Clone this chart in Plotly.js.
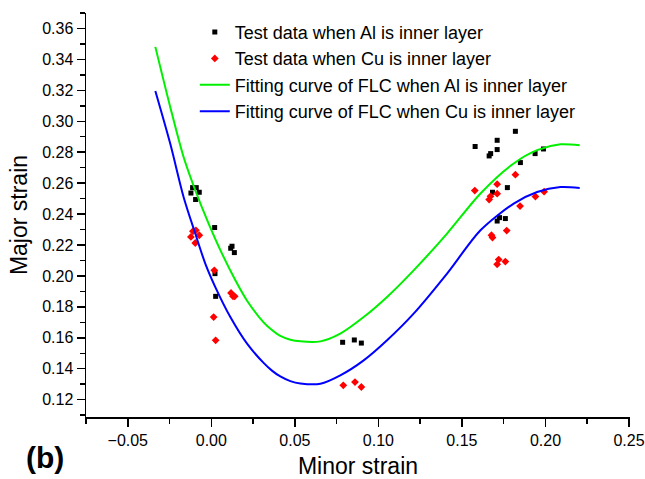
<!DOCTYPE html>
<html>
<head>
<meta charset="utf-8">
<script src="https://cdn.plot.ly/plotly-3.0.1.min.js"></script>
<style>html,body{margin:0;padding:0;background:#fff;}#chart{width:645px;height:479px;}</style>
</head>
<body>
<div id="chart"></div>
<script>
// Test data, Al inner layer (black squares)
const alX = [-0.0112, -0.0090, -0.0122, -0.0072, -0.0094, 0.0020, 0.0124, 0.0116, 0.0138, 0.0022, 0.0026,
             0.0786, 0.0856, 0.0898,
             0.1579, 0.1663, 0.1672, 0.1711, 0.1711, 0.1820, 0.1850, 0.1938, 0.1988, 0.1772, 0.1683, 0.1725, 0.1711, 0.1760];
const alY = [0.2571, 0.2571, 0.2536, 0.2541, 0.2494, 0.2313, 0.2192, 0.2179, 0.2151, 0.2015, 0.1868,
             0.1571, 0.1586, 0.1566,
             0.2837, 0.2776, 0.2791, 0.2877, 0.2817, 0.2935, 0.2733, 0.2791, 0.2821, 0.2571, 0.2541, 0.2377, 0.2355, 0.2371];

// Test data, Cu inner layer (red diamonds)
const cuX = [-0.0110, -0.0092, -0.0122, -0.0072, -0.0096, 0.0018, 0.0118, 0.0130, 0.0140, 0.0014, 0.0026,
             0.0790, 0.0860, 0.0898,
             0.1577, 0.1820, 0.1711, 0.1663, 0.1671, 0.1711, 0.1848, 0.1940, 0.1992, 0.1677, 0.1683, 0.1768, 0.1720, 0.1711, 0.1760];
const cuY = [0.2289, 0.2295, 0.2252, 0.2263, 0.2213, 0.2036, 0.1890, 0.1868, 0.1868, 0.1734, 0.1584,
             0.1293, 0.1314, 0.1282,
             0.2552, 0.2655, 0.2593, 0.2494, 0.2515, 0.2532, 0.2452, 0.2513, 0.2545, 0.2263, 0.2248, 0.2293, 0.2106, 0.2075, 0.2093];

// Fitting curve FLC, Al inner layer (green)
const fitAlX = [-0.0335, -0.0246, -0.0166, -0.0096, -0.0016, 0.0064, 0.0144, 0.0214, 0.0313, 0.0363, 0.0413, 0.0473, 0.0533, 0.0653,
                0.0772, 0.0912, 0.1052, 0.1211, 0.1411, 0.1611, 0.1810, 0.1950, 0.2090, 0.2205];
const fitAlY = [0.3481, 0.3093, 0.2769, 0.2554, 0.2338, 0.2144, 0.1972, 0.1840, 0.1700, 0.1650, 0.1612, 0.1588, 0.1577, 0.1577,
                0.1627, 0.1734, 0.1864, 0.2036, 0.2274, 0.2533, 0.2727, 0.2813, 0.2851, 0.2845];

// Fitting curve FLC, Cu inner layer (blue)
const fitCuX = [-0.0335, -0.0246, -0.0166, -0.0096, -0.0036, 0.0024, 0.0114, 0.0214, 0.0313, 0.0363, 0.0413, 0.0473, 0.0533, 0.0653,
                0.0772, 0.0912, 0.1052, 0.1211, 0.1411, 0.1611, 0.1810, 0.1950, 0.2090, 0.2205];
const fitCuY = [0.3196, 0.2856, 0.2511, 0.2274, 0.2080, 0.1928, 0.1734, 0.1562, 0.1438, 0.1388, 0.1350, 0.1320, 0.1305, 0.1303,
                0.1357, 0.1454, 0.1584, 0.1756, 0.2015, 0.2295, 0.2468, 0.2543, 0.2575, 0.2569];

const names = [
  'Test data when Al is inner layer',
  'Test data when Cu is inner layer',
  'Fitting curve of FLC when Al is inner layer',
  'Fitting curve of FLC when Cu is inner layer'
];

const FONT = 'Arial, "Liberation Sans", sans-serif';

const traces = [
  {x: alX, y: alY, name: names[0], type: 'scatter', mode: 'markers',
   marker: {symbol: 'square', size: 5, color: '#000000'}},
  {x: cuX, y: cuY, name: names[1], type: 'scatter', mode: 'markers',
   marker: {symbol: 'diamond', size: 6, color: '#ff0000'}},
  {x: fitAlX, y: fitAlY, name: names[2], type: 'scatter', mode: 'lines',
   line: {color: '#00f000', width: 2, shape: 'spline', smoothing: 0.8}},
  {x: fitCuX, y: fitCuY, name: names[3], type: 'scatter', mode: 'lines',
   line: {color: '#0000ff', width: 2, shape: 'spline', smoothing: 0.8}}
];

const layout = {
  width: 645, height: 479,
  margin: {l: 86, r: 15, t: 13, b: 62},
  paper_bgcolor: '#ffffff', plot_bgcolor: '#ffffff',
  font: {family: FONT, color: '#000000'},
  showlegend: true,
  legend: {x: 0.2, y: 0.998, xanchor: 'left', yanchor: 'top',
           bgcolor: 'rgba(0,0,0,0)', font: {size: 18, family: FONT, color: '#000'}},
  xaxis: {
    range: [-0.075, 0.2506], dtick: 0.05, tick0: 0, tickformat: '.2f',
    showgrid: false, zeroline: false, showline: true, linecolor: '#000', linewidth: 1.5,
    ticks: 'outside', ticklen: 8, tickwidth: 1.5, tickcolor: '#000',
    tickfont: {size: 16, family: FONT},
    minor: {dtick: 0.025, tick0: 0, ticks: 'outside', ticklen: 5, tickwidth: 1.5, tickcolor: '#000', showgrid: false},
    title: {text: 'Minor strain', font: {size: 23, family: FONT}, standoff: 14}
  },
  yaxis: {
    range: [0.1088, 0.37], dtick: 0.02, tick0: 0.12, tickformat: '.2f',
    showgrid: false, zeroline: false, showline: true, linecolor: '#000', linewidth: 1.5,
    ticks: 'outside', ticklen: 8, tickwidth: 1.5, tickcolor: '#000',
    tickfont: {size: 16, family: FONT},
    minor: {dtick: 0.01, tick0: 0.12, ticks: 'outside', ticklen: 5, tickwidth: 1.5, tickcolor: '#000', showgrid: false},
    title: {text: 'Major strain', font: {size: 23, family: FONT}, standoff: 8}
  },
  annotations: [
    {text: '<b>(b)</b>', xref: 'paper', yref: 'paper', x: -0.075, y: -0.10,
     xanchor: 'center', yanchor: 'middle', showarrow: false,
     font: {size: 30, family: FONT, color: '#000'}}
  ]
};

Plotly.newPlot('chart', traces, layout, {displayModeBar: false, staticPlot: true});
</script>
</body>
</html>
